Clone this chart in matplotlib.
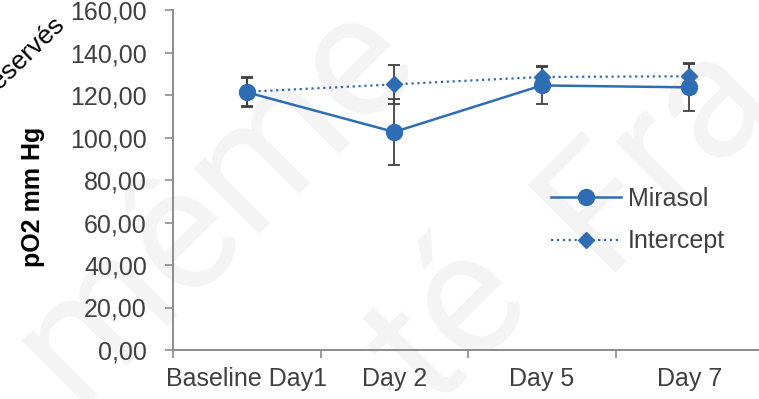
import matplotlib
matplotlib.use("Agg")
import matplotlib.pyplot as plt
from matplotlib.ticker import FuncFormatter, FixedLocator

# pO2 follow-up, Mirasol vs Intercept
days = ["Baseline Day1", "Day 2", "Day 5", "Day 7"]
mirasol_mean = [121.3, 102.6, 124.5, 123.6]
mirasol_sd = [6.9, 15.5, 8.7, 11.0]
intercept_mean = [121.5, 125.0, 128.5, 128.8]
intercept_sd = [6.9, 9.0, 5.3, 6.1]

W, H = 759, 399
blue = "#2e6db4"
err_col = "#404040"
axis_col = "#8c8c8c"
text_col = "#404040"

plt.rcParams["font.family"] = ["Liberation Sans", "DejaVu Sans"]

fig = plt.figure(figsize=(W / 100, H / 100), dpi=100)

# faint diagonal watermark behind the plot
wm = dict(color="#f4f4f4", fontsize=125, rotation=45, ha="center", va="center",
          family=["Roboto", "DejaVu Sans"], zorder=-5)
fig.text(215 / W, 1 - 200 / H, "même", **wm)
fig.text(655 / W, 1 - 150 / H, "Fra", **wm)
fig.text(450 / W, 1 - 325 / H, "té", **wm)
fig.text(66 / W, 1 - 27 / H, "Tous droits réservés", color="black", fontsize=19,
         rotation=44, rotation_mode="anchor", ha="right", va="baseline", zorder=-4)

ax = fig.add_axes([173 / W, 49 / H, (763 - 173) / W, 340 / H])
ax.patch.set_alpha(0)
x = list(range(len(days)))

ax.errorbar(x, mirasol_mean, yerr=mirasol_sd, fmt="none", ecolor=err_col,
            elinewidth=1.3, capsize=4.3, capthick=1.3, zorder=2)
ax.errorbar(x, intercept_mean, yerr=intercept_sd, fmt="none", ecolor=err_col,
            elinewidth=1.3, capsize=4.3, capthick=1.3, zorder=2)
ax.plot(x, intercept_mean, linestyle=":", color=blue, lw=1.6, marker="D",
        markersize=8.5, label="Intercept", zorder=3)
ax.plot(x, mirasol_mean, linestyle="-", color=blue, lw=1.8, marker="o",
        markersize=11.5, label="Mirasol", zorder=4)

ax.set_xlim(-0.5, 3.5)
ax.set_ylim(0, 160)
ax.set_yticks(range(0, 161, 20))
ax.yaxis.set_major_formatter(FuncFormatter(lambda v, p: f"{v:.2f}".replace(".", ",")))

ax.xaxis.set_major_locator(FixedLocator([-0.5, 0.5, 1.5, 2.5, 3.5]))
ax.xaxis.set_major_formatter(FuncFormatter(lambda v, p: ""))
ax.xaxis.set_minor_locator(FixedLocator(x))
ax.set_xticklabels(days, minor=True)
ax.tick_params(axis="x", which="minor", length=0, pad=12, labelsize=18, labelcolor=text_col)
ax.tick_params(axis="x", which="major", length=5.5, width=1.2, color=axis_col)
ax.tick_params(axis="y", length=5.8, width=1.2, color=axis_col, pad=13,
               labelsize=18, labelcolor=text_col)

for side in ["top", "right"]:
    ax.spines[side].set_visible(False)
for side in ["left", "bottom"]:
    ax.spines[side].set_color(axis_col)
    ax.spines[side].set_linewidth(1.4)

fig.text(33 / W, 1 - 197 / H, "pO2 mm Hg", rotation=90, ha="center", va="center",
         fontsize=18, fontweight="bold", color="black")

handles, labels = ax.get_legend_handles_labels()
fig.legend(handles[::-1], labels[::-1], loc="upper left",
           bbox_to_anchor=(538 / W, 1 - 174 / H), frameon=False, fontsize=18,
           handlelength=2.8, handletextpad=0.3, labelspacing=0.75, borderpad=0,
           labelcolor=text_col)

fig.savefig("out.png", dpi=100)
